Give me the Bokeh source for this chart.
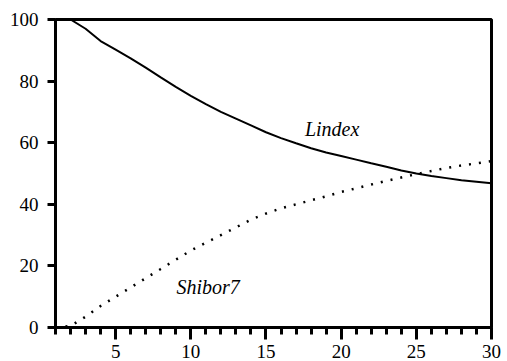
from bokeh.plotting import figure
from bokeh.models import FixedTicker, Range1d
from bokeh.embed import file_html
from bokeh.resources import INLINE
from bokeh.core.properties import value

periods = list(range(1, 31))
lindex = [100, 100, 97, 93, 90.2, 87.4, 84.4, 81.2, 78.1, 75.2, 72.5, 70, 67.8, 65.6, 63.4,
          61.5, 59.8, 58.2, 56.8, 55.7, 54.5, 53.3, 52.2, 51, 50, 49.2, 48.5, 47.8, 47.3, 46.8]
shibor7 = [0, 0.5, 3.5, 7, 10, 13, 16, 19, 22, 25, 27.5, 30, 32.5, 35, 37,
           38.7, 40, 41.3, 42.6, 44, 45.2, 46.4, 47.6, 48.7, 49.8, 50.8, 51.8, 52.6, 53.3, 54]
x_ticks = [5, 10, 15, 20, 25, 30]
y_ticks = [0, 20, 40, 60, 80, 100]
labels = ["Lindex", "Shibor7"]
label_x = [19.4, 11.15]
label_y = [64.6, 13.3]

FONT = "Liberation Serif"

p = figure(frame_width=436, frame_height=308, output_backend="svg", toolbar_location=None,
           x_range=Range1d(1, 30), y_range=Range1d(0, 100),
           min_border_left=55, min_border_right=16, min_border_top=19, min_border_bottom=34)
p.background_fill_color = "white"
p.border_fill_color = "white"
p.grid.visible = False
p.outline_line_color = "black"
p.outline_line_width = 3

p.line(periods, lindex, line_color="black", line_width=2)
p.line(periods, shibor7, line_color="black", line_width=2.5, line_dash="2 8")

p.text(x=label_x, y=label_y, text=labels, text_font=value(FONT),
       text_font_style="italic", text_font_size="20px", text_align="center",
       text_baseline="middle", text_color="black")

for ax in (p.xaxis[0], p.yaxis[0]):
    ax.axis_line_width = 3
    ax.axis_line_color = "black"
    ax.major_tick_line_width = 3
    ax.major_tick_line_color = "black"
    ax.major_tick_in = 0
    ax.major_label_text_font = FONT
    ax.major_label_text_font_size = "19px"
    ax.major_label_text_color = "black"

p.xaxis.ticker = FixedTicker(ticks=x_ticks, minor_ticks=periods)
p.xaxis.major_tick_out = 12
p.xaxis.minor_tick_out = 7
p.xaxis.minor_tick_in = 0
p.xaxis.minor_tick_line_width = 3
p.xaxis.minor_tick_line_color = "black"
p.xaxis.major_label_standoff = 5

p.yaxis.ticker = FixedTicker(ticks=y_ticks)
p.yaxis.major_tick_out = 8
p.yaxis.minor_tick_line_color = None
p.yaxis.major_label_standoff = 9

open("out.html", "w").write(file_html(p, INLINE))
